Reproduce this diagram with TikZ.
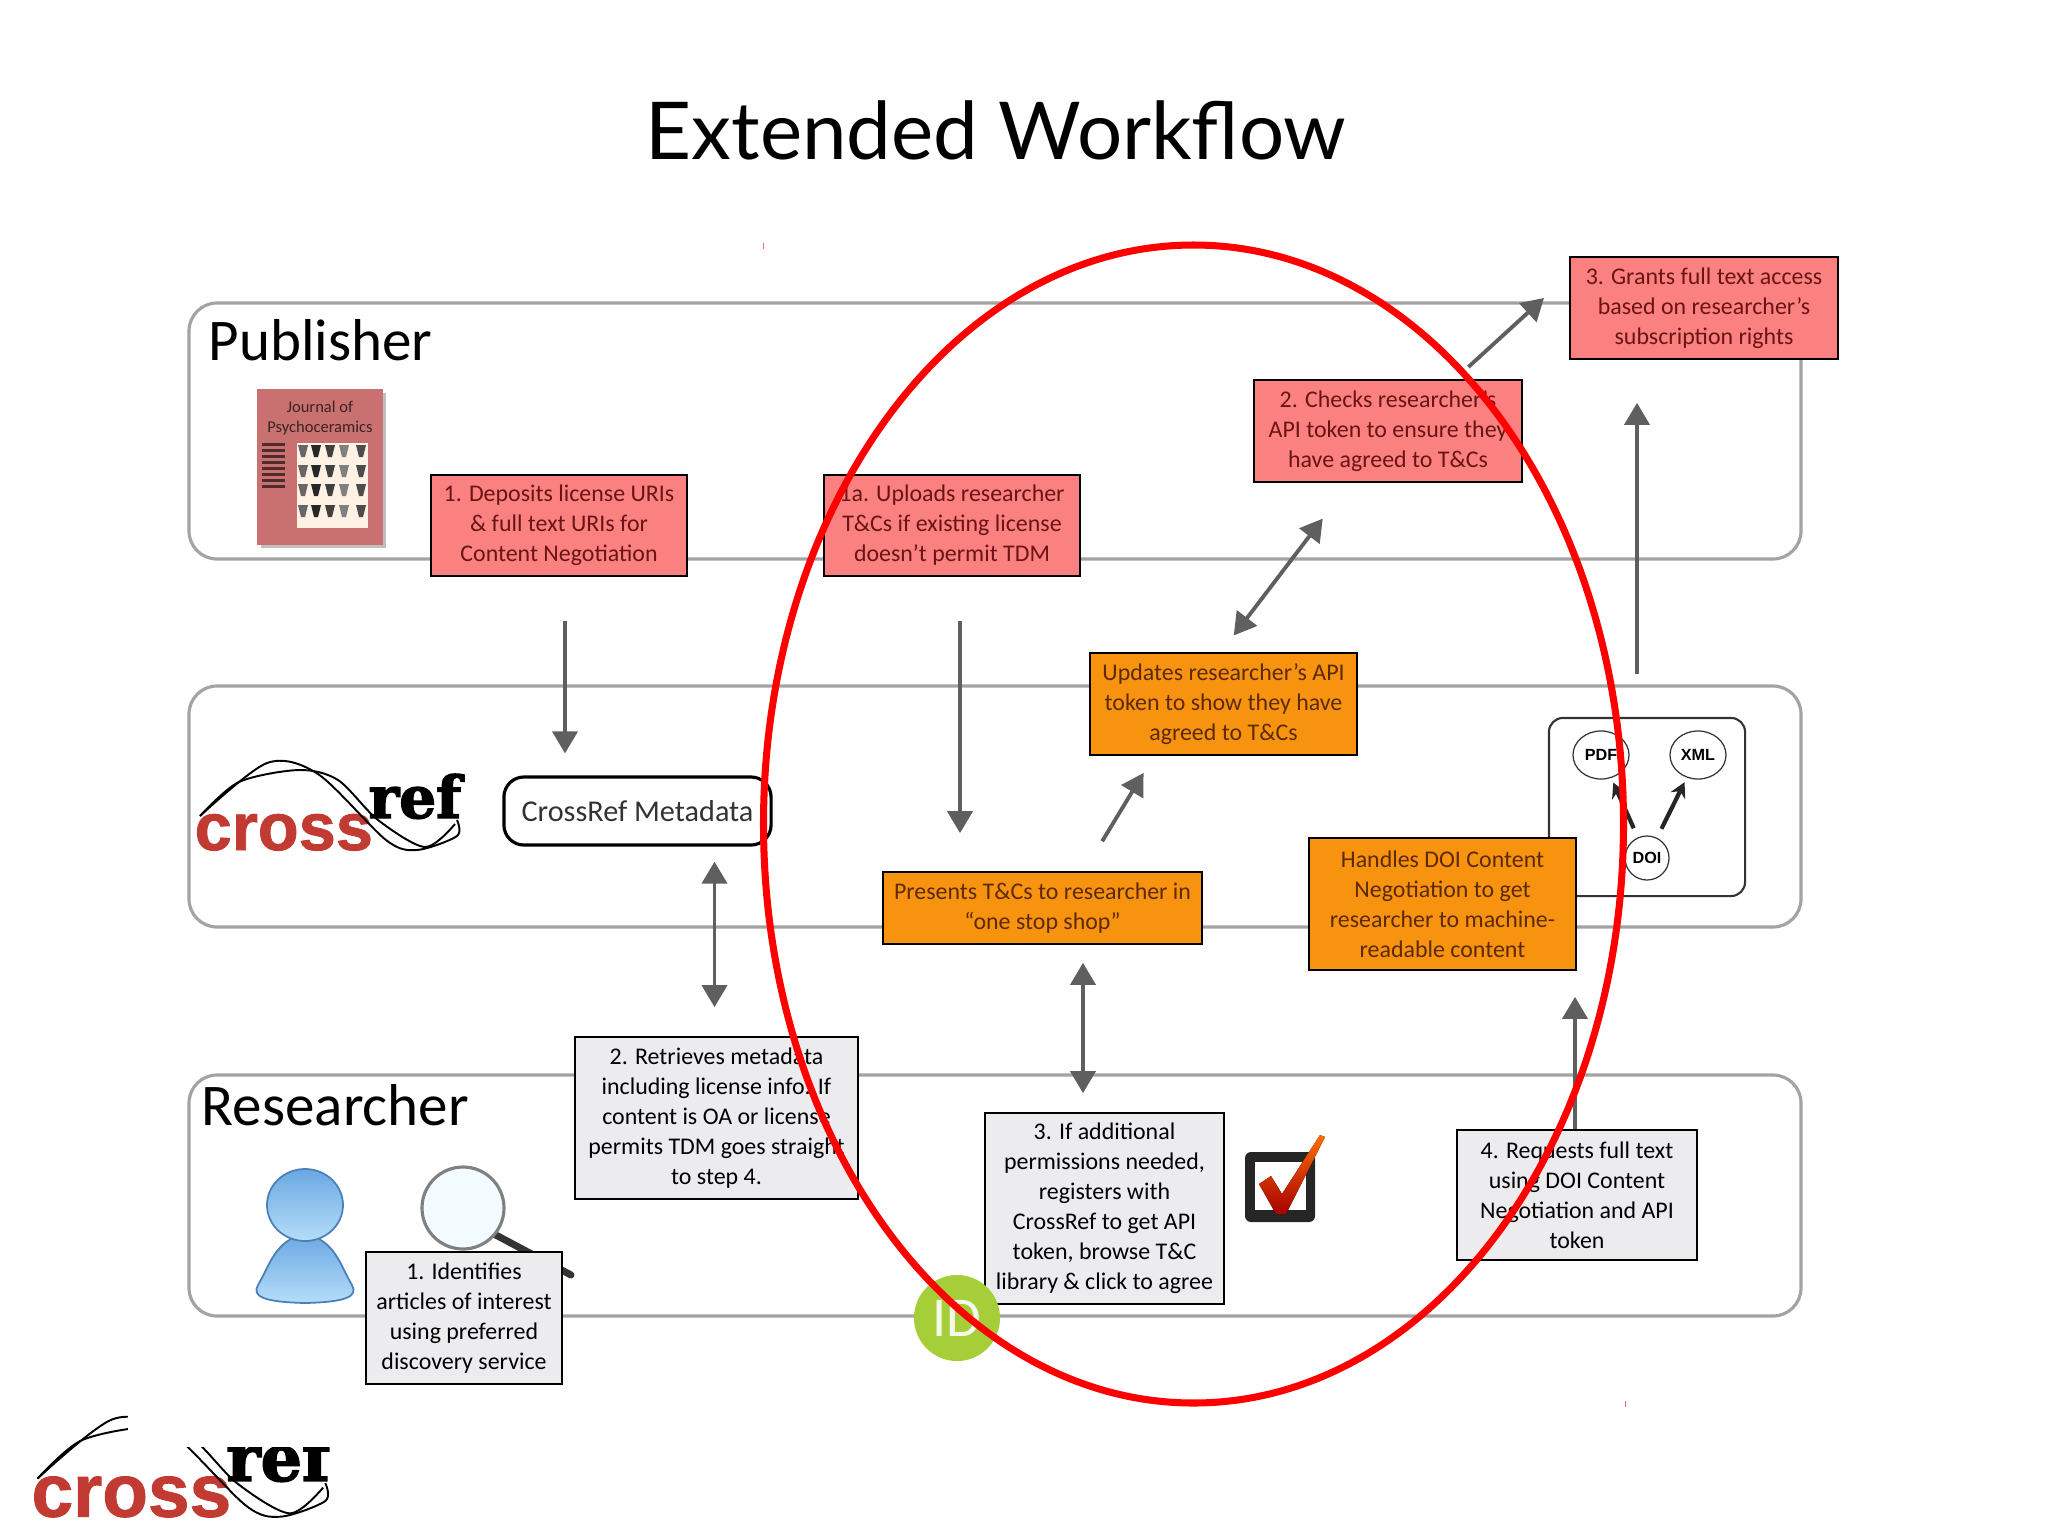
\documentclass[tikz,border=0pt]{standalone}
\usepackage{fontspec}
\setmainfont{Carlito}
\newfontfamily\titlefont{Lato}
\newfontfamily\logosans[FakeBold=1.2]{Liberation Sans Bold}
\newfontfamily\logoserif[FakeBold=2.5]{DejaVu Serif Bold}
\newfontfamily\bubblesans{Liberation Sans}
\usetikzlibrary{arrows.meta}
\usetikzlibrary{shapes.geometric}

\definecolor{lanegray}{HTML}{A3A3A3}
\definecolor{flowgray}{HTML}{5F5F5F}
\definecolor{salmon}{HTML}{FB8080}
\definecolor{salmontext}{HTML}{6A1414}
\definecolor{amber}{HTML}{F7930E}
\definecolor{ambertext}{HTML}{5C2A08}
\definecolor{pale}{HTML}{ECECEE}
\definecolor{coverred}{HTML}{C97171}
\definecolor{logored}{HTML}{C23B33}
\definecolor{orcid}{HTML}{A6CE39}
\definecolor{personblue}{HTML}{6AA8E2}
\definecolor{personpale}{HTML}{B5DDF9}
\definecolor{personline}{HTML}{4A7FB8}

\tikzset{
    lane/.style={draw=lanegray,line width=0.9pt,rounded corners=0.28cm},
    lanelabel/.style={anchor=base west,inner sep=0pt,font=\fontsize{16.8}{18}\selectfont},
    stepnote/.style={draw=black,line width=0.45pt,inner sep=0pt,align=center,font=\fontsize{6.8}{8.55}\selectfont},
    pubnote/.style={stepnote,fill=salmon,text=salmontext},
    refnote/.style={stepnote,fill=amber,text=ambertext},
    resnote/.style={stepnote,fill=pale,text=black},
    flow/.style={draw=flowgray,line width=1.1pt,-{Triangle[length=0.22cm,width=0.25cm]}},
    flowboth/.style={draw=flowgray,line width=1.1pt,{Triangle[length=0.22cm,width=0.25cm]}-{Triangle[length=0.22cm,width=0.25cm]}},
    bubble/.style={draw=black!80,line width=0.35pt,fill=white,ellipse,inner sep=0pt,font=\bubblesans\bfseries\fontsize{4.6}{5}\selectfont},
    bubbleflow/.style={draw=black!85,line width=1.2pt,-{Stealth[length=0.15cm,width=0.16cm]}},
    crossreflogo/.pic={
        \node[anchor=base west,inner sep=0pt,text=logored,font=\logosans\fontsize{19}{20}\selectfont] (-word) at (-2,89) {cross};
        \node[anchor=base west,inner sep=0pt,font=\logoserif\fontsize{16.5}{18}\selectfont] (-ref) at (172,57) {ref};
        \draw[black,line width=0.55pt] plot[smooth] coordinates {(4,55) (71,2) (122,13) (190,79) (221,89) (261,75) (261,59)};
        \draw[black,line width=0.55pt] plot[smooth] coordinates {(4,55) (43,21) (103,9) (142,19) (182,59) (229,86) (259,63)};
    }
}

\begin{document}
\begin{tikzpicture}[x=0.01cm,y=-0.01cm]
    \useasboundingbox (0,0) rectangle (2048,1536);

    % title
    \node[inner sep=0pt,anchor=base,font=\titlefont\fontsize{22.7}{26}\selectfont] (title) at (996,159) {Extended Workflow};

    % lanes
    \foreach \ytop/\ybot in {303/559,686/927,1075/1316}
        \draw[lane] (189,\ytop) rectangle (1801,\ybot);
    \node[lanelabel] (publisher) at (208,360) {Publisher};
    \node[lanelabel] (researcher) at (201,1125) {Researcher};

    % journal cover
    \fill[black!25] (261,393) rectangle (386,548);
    \fill[coverred] (257,389) rectangle (383,545);
    \node[inner sep=0pt,align=center,text=black!70!coverred,font=\fontsize{4.7}{5.6}\selectfont] (journal) at (320,418) {Journal of\\Psychoceramics};
    \foreach \ybar in {443,449,...,488}
        \fill[black!60!coverred] (262,\ybar) rectangle (285,\ybar+3);
    \fill[white!90!orange] (297,443) rectangle (368,528);
    \foreach \ypot in {451,471,490,511}
        \foreach \xpot/\tone in {303/60,316/85,330/75,344/50,361/70}
            \fill[black!\tone] (\xpot-5,\ypot-6) -- (\xpot+5,\ypot-6) -- (\xpot+2,\ypot+6) -- (\xpot-2,\ypot+6) -- cycle;

    % crossref logos
    \pic (lanelogo) at (196,761) {crossreflogo};
    \pic[scale=1.12,transform shape] (footlogo) at (33,1417) {crossreflogo};
    \fill[white] (128,1405) rectangle (345,1447);

    % metadata
    \node[draw=black,line width=0.9pt,rounded corners=0.2cm,minimum width=2.67cm,minimum height=0.68cm,inner sep=0pt,text=black!80,font=\fontsize{8.6}{12}\selectfont] (metadata) at (637.5,811) {CrossRef Metadata};

    % doi inset
    \node[draw=black!80,line width=0.6pt,rounded corners=0.14cm,minimum width=1.96cm,minimum height=1.78cm,inner sep=0pt] (doiset) at (1647,807) {};
    \node[bubble,minimum width=0.56cm,minimum height=0.48cm] (pdf) at (1601,755) {PDF};
    \node[bubble,minimum width=0.56cm,minimum height=0.48cm] (xml) at (1698,755) {XML};
    \node[bubble,minimum width=0.44cm,minimum height=0.44cm] (doi) at (1647,858) {DOI};
    \draw[bubbleflow,shorten <=0.1cm,shorten >=0.05cm] (doi) -- (pdf);
    \draw[bubbleflow,shorten <=0.1cm,shorten >=0.05cm] (doi) -- (xml);

    % person
    \filldraw[top color=personblue,bottom color=personpale,draw=personline,line width=0.5pt] (305,1234) .. controls (275,1240) and (270,1265) .. (258,1285) .. controls (252,1296) and (262,1302) .. (305,1303) .. controls (348,1302) and (358,1296) .. (352,1285) .. controls (340,1265) and (335,1240) .. (305,1234) -- cycle;
    \filldraw[top color=personblue,bottom color=personpale,draw=personline,line width=0.5pt] (305,1205) ellipse (38 and 36);

    % magnifier
    \draw[black!80,line width=2pt,line cap=round] (494,1234) -- (571,1275);
    \draw[black!50,line width=0.9pt,fill=blue!30!cyan!5] (463,1208) circle (41);

    % step notes, publisher
    \node[pubnote,minimum width=2.56cm,minimum height=1.01cm] (deposits) at (559,525.5) {1. Deposits license URIs\\\& full text URIs for\\Content Negotiation};
    \node[pubnote,minimum width=2.56cm,minimum height=1.01cm] (uploads) at (952,525.5) {1a. Uploads researcher\\T\&Cs if existing license\\doesn’t permit TDM};
    \node[pubnote,minimum width=2.68cm,minimum height=1.02cm] (checks) at (1388,431) {2. Checks researcher’s\\API token to ensure they\\have agreed to T\&Cs};
    \node[pubnote,minimum width=2.68cm,minimum height=1.02cm] (grants) at (1704,308) {3. Grants full text access\\based on researcher’s\\subscription rights};

    % step notes, crossref
    \node[refnote,minimum width=2.67cm,minimum height=1.02cm] (updates) at (1223.5,704) {Updates researcher’s API\\token to show they have\\agreed to T\&Cs};
    \node[refnote,minimum width=3.19cm,minimum height=0.72cm] (presents) at (1042.5,908) {Presents T\&Cs to researcher in\\“one stop shop”};
    \node[refnote,minimum width=2.67cm,minimum height=1.32cm] (handles) at (1442.5,904) {Handles DOI Content\\Negotiation to get\\researcher to machine-\\readable content};

    % step notes, researcher
    \node[resnote,minimum width=2.83cm,minimum height=1.62cm] (retrieves) at (716.5,1118) {2. Retrieves metadata\\including license info. If\\content is OA or license\\permits TDM goes straight\\to step 4.};
    \node[resnote,minimum width=1.96cm,minimum height=1.32cm] (identifies) at (464,1318) {1. Identifies\\articles of interest\\using preferred\\discovery service};
    \node[resnote,minimum width=2.39cm,minimum height=1.91cm] (additional) at (1104.5,1208.5) {3. If additional\\permissions needed,\\registers with\\CrossRef to get API\\token, browse T\&C\\library \& click to agree};
    \node[resnote,minimum width=2.4cm,minimum height=1.3cm] (requests) at (1577,1195) {4. Requests full text\\using DOI Content\\Negotiation and API\\token};

    % checkbox
    \fill[black!85,rounded corners=0.06cm] (1245,1152) rectangle (1315,1222);
    \fill[white] (1255,1162) rectangle (1306,1210);
    \fill[top color=orange!85!red,bottom color=red!65!black] (1259,1184) -- (1271,1176) -- (1282,1194) -- (1320,1135) -- (1325,1137) -- (1286,1214) -- (1276,1214) -- cycle;

    % orcid badge
    \node[circle,fill=orcid,minimum size=0.86cm,inner sep=0pt,text=white!90!orcid,font=\fontsize{16}{17}\selectfont] (orcid) at (957,1318) {ID};

    % flows
    \draw[flow,shorten <=0.44cm,shorten >=0.22cm] ([xshift=0.06cm]deposits.south) -- ([xshift=0.06cm]deposits.south |- metadata.north);
    \draw[flow,shorten <=0.44cm,shorten >=0.38cm] ([xshift=0.08cm]uploads.south) -- ([xshift=0.08cm]uploads.south |- presents.north);
    \draw[flow,shorten <=0.35cm,shorten >=0.2cm] ([xshift=0.415cm]presents.north) -- ([xshift=-0.695cm]updates.south);
    \draw[flowboth,shorten <=0.21cm,shorten >=0.45cm] ([xshift=-0.025cm]updates.north) -- ([xshift=-0.38cm]checks.south);
    \draw[flow,shorten <=0.18cm,shorten >=0.34cm] ([xshift=0.67cm]checks.north) -- ([yshift=0.33cm]grants.west);
    \draw[flow,shorten <=0.43cm,shorten >=0.43cm] ([xshift=-0.1cm]doiset.north) -- ([xshift=-0.1cm]doiset.north |- grants.south);
    \draw[flow,shorten >=0.26cm] ([xshift=-0.02cm]requests.north) -- ([xshift=-0.02cm]requests.north |- handles.south);
    \draw[flowboth,shorten <=0.29cm,shorten >=0.15cm] ([xshift=-0.02cm]retrieves.north) -- ([xshift=-0.02cm]retrieves.north |- metadata.south);
    \draw[flowboth,shorten <=0.19cm,shorten >=0.18cm] ([xshift=-0.215cm]additional.north) -- ([xshift=-0.215cm]additional.north |- presents.south);

    % red ring and its marks
    \draw[red,line width=2pt] (1193.5,824) ellipse (430 and 579);
    \draw[red!60,line width=0.2pt] (763,243) -- (763,249);
    \draw[red!60,line width=0.2pt] (1625,1401) -- (1625,1407);
\end{tikzpicture}
\end{document}
